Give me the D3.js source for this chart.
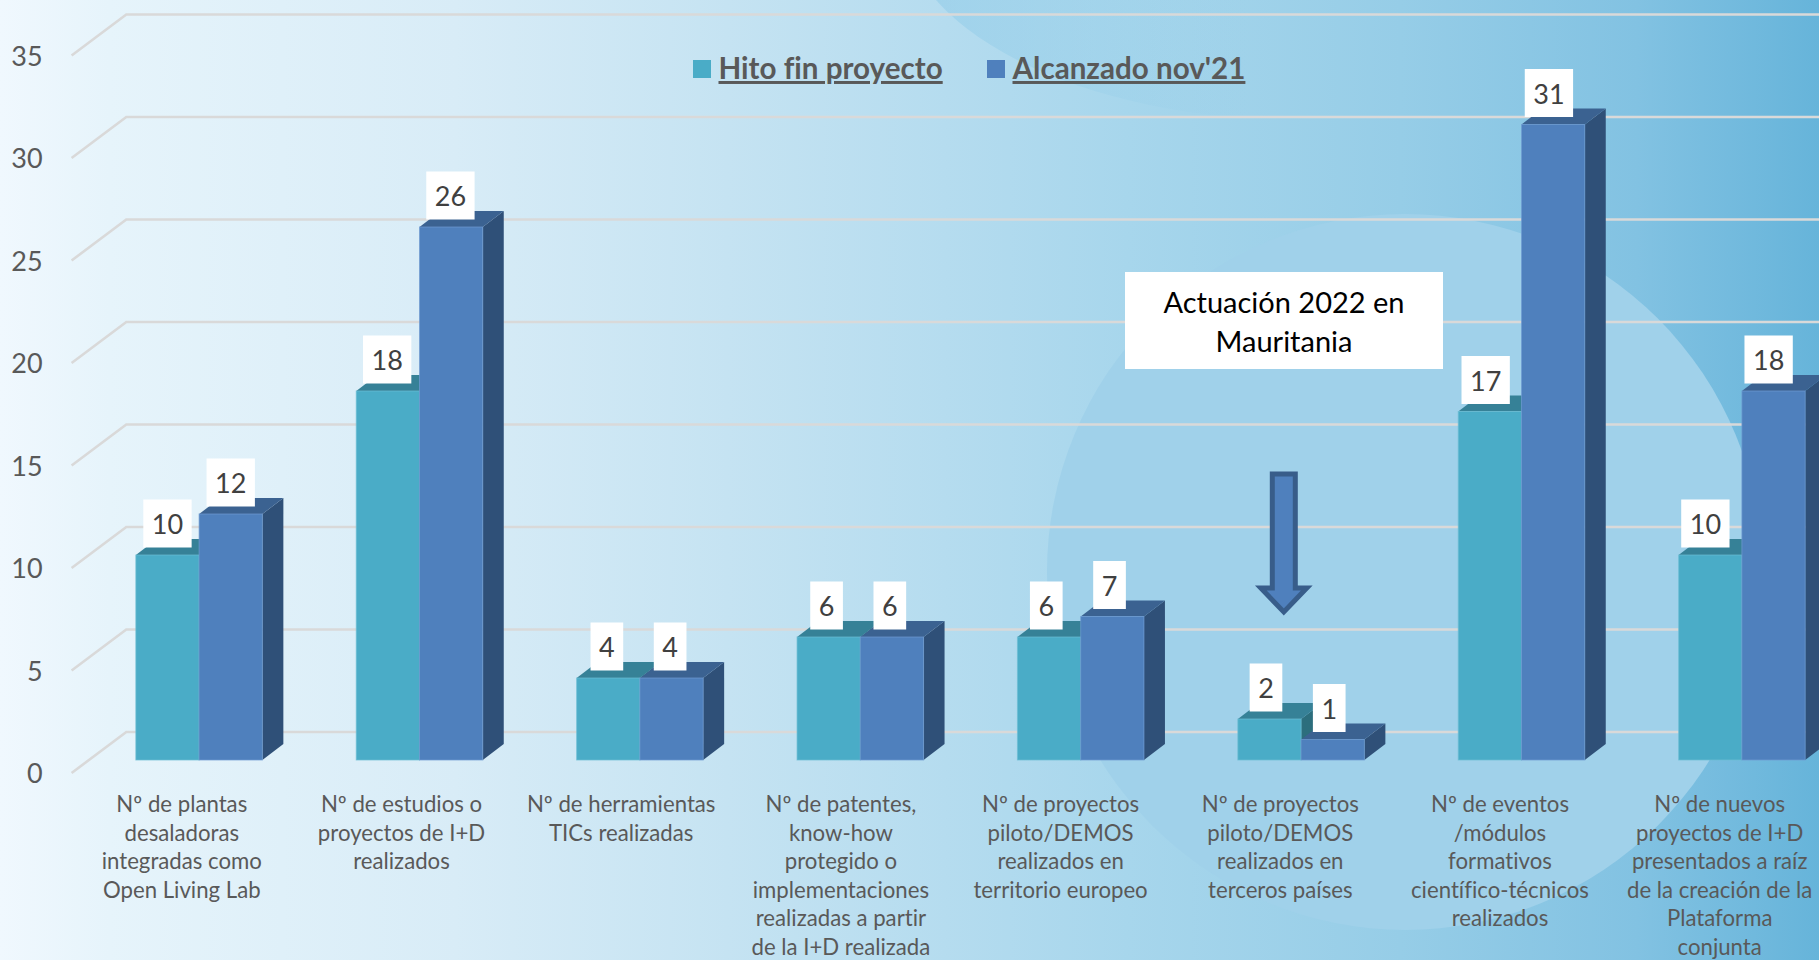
<!DOCTYPE html>
<html>
<head>
<meta charset="utf-8">
<script src="https://cdnjs.cloudflare.com/ajax/libs/d3/7.8.5/d3.min.js"></script>
<style>
html, body { margin: 0; padding: 0; overflow: hidden; background: #fff; }
svg { display: block; font-family: Lato, "Open Sans", sans-serif; font-variant-ligatures: none; }
</style>
</head>
<body>
<svg id="grafico" width="1819" height="960"></svg>
<script>
// Datos
const categorias = [
    "Nº de plantas desaladoras integradas como Open Living Lab",
    "Nº de estudios o proyectos de I+D realizados",
    "Nº de herramientas TICs realizadas",
    "Nº de patentes, know-how protegido o implementaciones realizadas a partir de la I+D realizada",
    "Nº de proyectos piloto/DEMOS realizados en territorio europeo",
    "Nº de proyectos piloto/DEMOS realizados en terceros países",
    "Nº de eventos /módulos formativos científico-técnicos realizados",
    "Nº de nuevos proyectos de I+D presentados a raíz de la creación de la Plataforma conjunta"
];
const lineasCategoria = [
    ["Nº de plantas", "desaladoras", "integradas como", "Open Living Lab"],
    ["Nº de estudios o", "proyectos de I+D", "realizados"],
    ["Nº de herramientas", "TICs realizadas"],
    ["Nº de patentes,", "know-how", "protegido o", "implementaciones", "realizadas a partir", "de la I+D realizada"],
    ["Nº de proyectos", "piloto/DEMOS", "realizados en", "territorio europeo"],
    ["Nº de proyectos", "piloto/DEMOS", "realizados en", "terceros países"],
    ["Nº de eventos", "/módulos", "formativos", "científico-técnicos", "realizados"],
    ["Nº de nuevos", "proyectos de I+D", "presentados a raíz", "de la creación de la", "Plataforma", "conjunta"]
];
const series = ["Hito fin proyecto", "Alcanzado nov'21"];
const hitoFinProyecto = [10, 18, 4, 6, 6, 2, 17, 10];
const alcanzadoNov21 = [12, 26, 4, 6, 7, 1, 31, 18];
const ticks = [0, 5, 10, 15, 20, 25, 30, 35];

const anchura = 1819, altura = 960;

// Colores: frontal, tapa, lateral, borde
const colores = [
    { frente: "#4aacc7", tapa: "#368197", lado: "#2c6e7d", borde: "#6cbdd4" },
    { frente: "#4f80bd", tapa: "#3b6291", lado: "#2f5078", borde: "#6f9bd1" }
];

const svg = d3.select("#grafico");
const defs = svg.append("defs");

//Fondo degradado
const fondo = defs.append("linearGradient").attr("id", "fondo");
[[0, "#f0f8fe"], [0.06, "#e6f4fb"], [0.25, "#d8ecf7"], [0.4, "#c5e3f2"], [0.52, "#b5dcef"], [0.62, "#a7d6ec"], [0.77, "#96cde7"], [0.9, "#82c2e2"], [1, "#66b4da"]]
    .forEach(p => fondo.append("stop").attr("offset", p[0]).attr("stop-color", p[1]));
svg.append("rect").attr("width", anchura).attr("height", altura).attr("fill", "url(#fondo)");

//Formas decorativas del fondo
const sombra = defs.append("linearGradient").attr("id", "sombra")
    .attr("gradientUnits", "userSpaceOnUse").attr("x1", 930).attr("x2", 1250).attr("y1", 0).attr("y2", 0);
sombra.append("stop").attr("offset", 0).attr("stop-color", "#8fcbe8").attr("stop-opacity", 0.55);
sombra.append("stop").attr("offset", 1).attr("stop-color", "#8fcbe8").attr("stop-opacity", 0);
svg.append("ellipse").attr("cx", 1300).attr("cy", -85).attr("rx", 400).attr("ry", 205)
    .attr("fill", "url(#sombra)");
svg.append("circle").attr("cx", 1405).attr("cy", 572).attr("r", 358)
    .attr("fill", "#a0d1ea");

//Escalas: plano frontal del eje, las barras van desplazadas hacia el fondo
const y = d3.scaleLinear().domain([0, 35]).range([773, 55.5]);
const xGrupo = d3.scaleBand().domain(categorias).range([71.6, 71.6 + 8 * 220.4]).paddingInner(0.426).paddingOuter(0.213);
const xSerie = d3.scaleBand().domain(series).range([0, xGrupo.bandwidth()]);

const planoBarra = { dx: 17.3, dy: -13 };
const fondoBarra = { dx: 21, dy: -16 };
const pared = { dx: 54.7, dy: -41 };
//Las etiquetas avanzan un poco menos que las barras
const deriva = i => -0.7 * i;

//Rejilla
const rejilla = svg.append("g").attr("fill", "none").attr("stroke", "#d9d9d9").attr("stroke-width", 2.6);
ticks.forEach(t => {
    rejilla.append("path").attr("d", d3.line()([
        [xGrupo.range()[0], y(t)],
        [xGrupo.range()[0] + pared.dx, y(t) + pared.dy],
        [anchura, y(t) + pared.dy]
    ]));
});

//Eje Y
const ejeY = d3.axisLeft(y).tickValues(ticks).tickSize(0).tickPadding(29);
svg.append("g").attr("transform", "translate(71.6,1)").call(ejeY)
    .call(g => g.select(".domain").remove())
    .selectAll("text").style("font", "27px Lato, sans-serif").attr("fill", "#595959");

//Barras 3D
const grupos = svg.append("g").selectAll("g").data(categorias).join("g")
    .attr("transform", d => "translate(" + (xGrupo(d) + planoBarra.dx) + "," + planoBarra.dy + ")");

const filas = [hitoFinProyecto, alcanzadoNov21];
filas.forEach((valores, s) => {
    const w = xSerie.bandwidth();
    const x0 = xSerie(series[s]);
    const c = colores[s];
    const barra = grupos.append("g");
    barra.append("path").attr("fill", c.lado).attr("d", (d, i) => d3.line()([
        [x0 + w, y(valores[i])],
        [x0 + w + fondoBarra.dx, y(valores[i]) + fondoBarra.dy],
        [x0 + w + fondoBarra.dx, y(0) + fondoBarra.dy],
        [x0 + w, y(0)]
    ]) + "Z");
    barra.append("path").attr("fill", c.tapa).attr("d", (d, i) => d3.line()([
        [x0, y(valores[i])],
        [x0 + fondoBarra.dx, y(valores[i]) + fondoBarra.dy],
        [x0 + w + fondoBarra.dx, y(valores[i]) + fondoBarra.dy],
        [x0 + w, y(valores[i])]
    ]) + "Z");
    barra.append("rect").attr("fill", c.frente)
        .attr("stroke", c.borde).attr("stroke-width", 1).attr("stroke-opacity", 0.7)
        .attr("x", x0).attr("width", w)
        .attr("y", (d, i) => y(valores[i]))
        .attr("height", (d, i) => y(0) - y(valores[i]));
});

//Etiquetas de datos con caja blanca
filas.forEach((valores, s) => {
    const etiqueta = grupos.append("g")
        .attr("transform", (d, i) => "translate(" + (xSerie(series[s]) + xSerie.bandwidth() / 2 + deriva(i)) + "," + (y(valores[i]) - 7.5) + ")");
    const caja = etiqueta.append("rect").attr("fill", "#fff").attr("y", -48).attr("height", 48);
    const texto = etiqueta.append("text")
        .attr("y", -22.5).attr("dy", ".35em").attr("text-anchor", "middle")
        .attr("fill", "#404040").style("font-size", "27px")
        .text((d, i) => valores[i]);
    caja.each(function (d, i) {
        const largo = texto.nodes()[i].getComputedTextLength() + 17;
        d3.select(this).attr("x", -largo / 2).attr("width", largo);
    });
});

//Etiquetas de categoría
const etiquetasX = svg.append("g").selectAll("text").data(categorias).join("text")
    .attr("text-anchor", "middle").attr("fill", "#595959").style("font-size", "22.2px");
etiquetasX.each(function (d, i) {
    d3.select(this).selectAll("tspan").data(lineasCategoria[i]).join("tspan")
        .attr("x", xGrupo(d) + xGrupo.bandwidth() / 2 + deriva(i))
        .attr("y", (l, j) => 812 + j * 28.6)
        .text(l => l);
});

//Leyenda
const leyenda = svg.append("g").selectAll("g").data(series).join("g")
    .attr("transform", (d, i) => "translate(" + [693, 987][i] + ",60)");
leyenda.append("rect").attr("width", 18).attr("height", 18).attr("fill", (d, i) => colores[i].frente);
leyenda.append("text").attr("x", 25.5).attr("y", 19)
    .attr("fill", "#595959").style("font-size", "29.6px").style("font-weight", 700)
    .style("text-decoration", "underline").style("text-decoration-thickness", "2.5px").text(d => d);

//Anotación Mauritania
const centroFlecha = xGrupo(categorias[5]) + xGrupo.bandwidth() / 2;
svg.append("rect").attr("x", 1125).attr("y", 272).attr("width", 318).attr("height", 97).attr("fill", "#fff");
svg.append("text").attr("text-anchor", "middle").attr("fill", "#000").style("font-size", "29px")
    .selectAll("tspan").data(["Actuación 2022 en", "Mauritania"]).join("tspan")
    .attr("x", 1284).attr("y", (d, i) => 313 + i * 38.5).text(d => d);
svg.append("path")
    .attr("transform", "translate(" + centroFlecha + ",0)")
    .attr("d", d3.line()([[-11.5, 474], [11.5, 474], [11.5, 588], [23, 588], [0, 612], [-23, 588], [-11.5, 588]]) + "Z")
    .attr("fill", "#4f80bd").attr("stroke", "#385d8a").attr("stroke-width", 5);
</script>
</body>
</html>
